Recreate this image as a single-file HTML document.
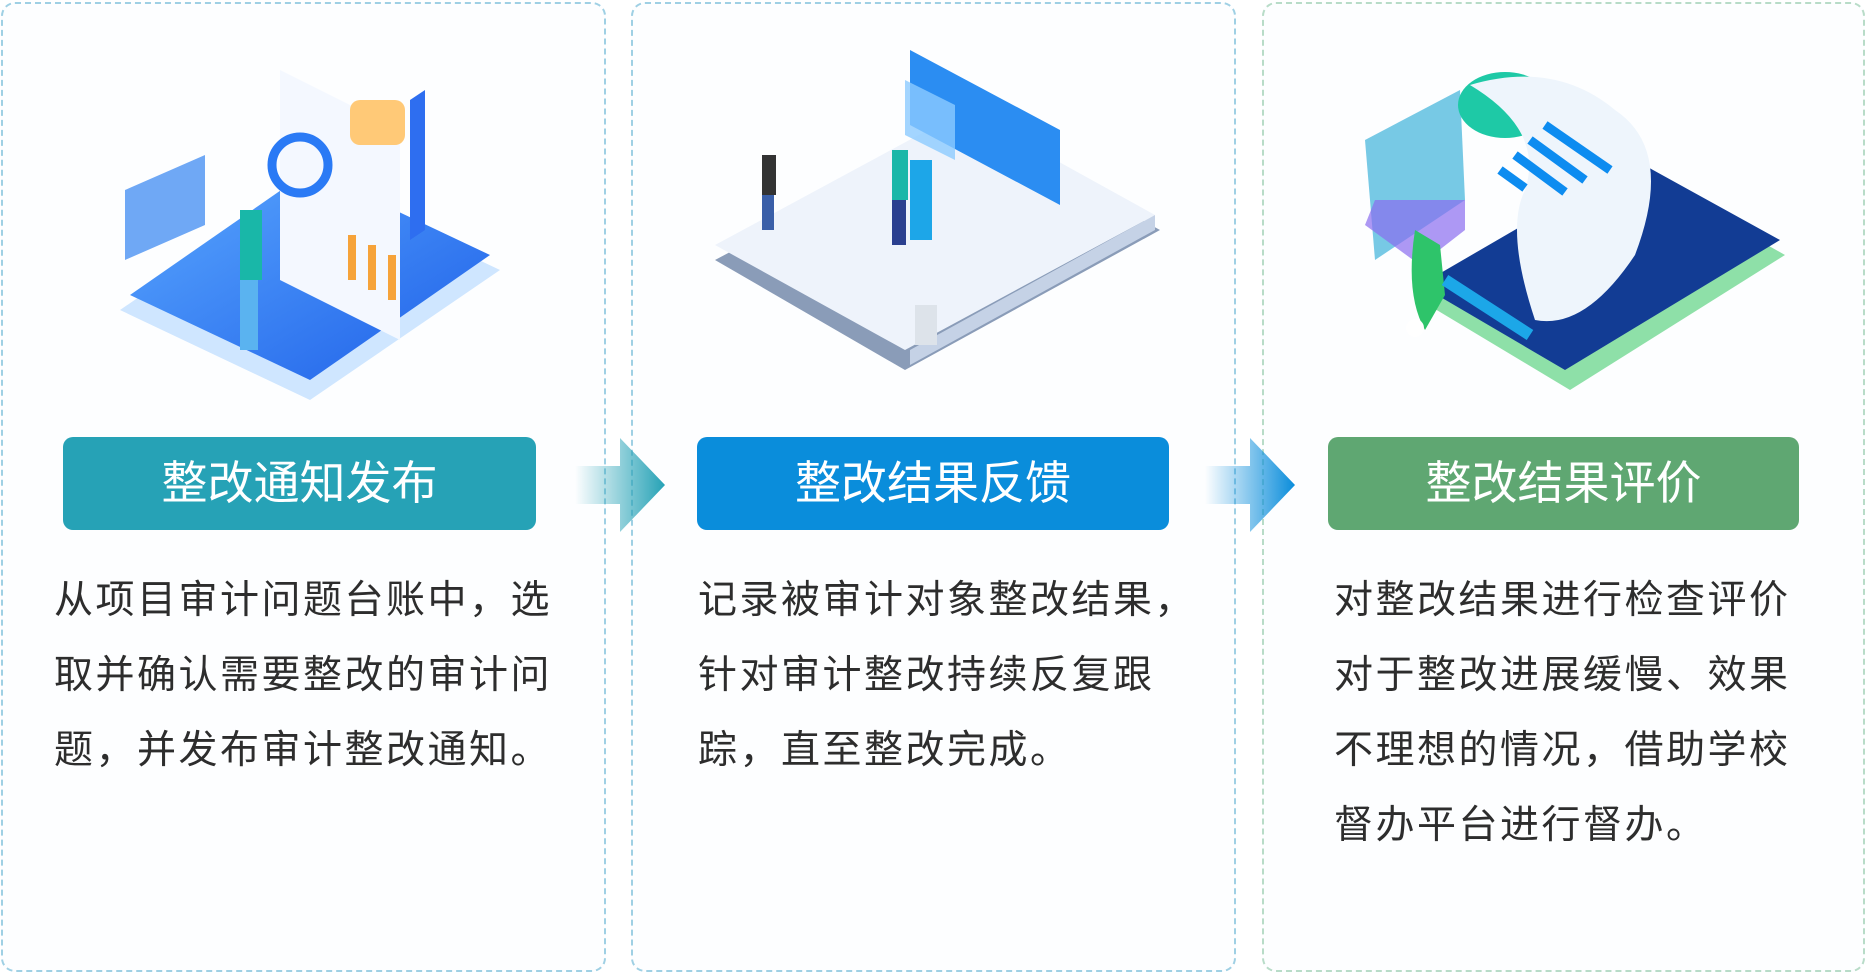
<!DOCTYPE html>
<html><head><meta charset="utf-8"><style>
html,body{margin:0;padding:0;width:1867px;height:976px;background:#fff;overflow:hidden;font-family:"Liberation Sans","Noto Sans CJK SC",sans-serif}
.card{position:absolute;top:2px;height:970px;border:2px dashed #9fd0e4;border-radius:14px;box-sizing:border-box;background:#fdfeff}
.bar{position:absolute;top:437px;height:93px;border-radius:10px;color:#fff;font-size:46px;text-align:center;line-height:93px;letter-spacing:0px}
.txt{position:absolute;top:563px;font-size:39px;line-height:75px;color:#2d2d2d;letter-spacing:2.5px}
.ill{position:absolute;top:30px}
</style></head><body>
<div class="card" style="left:1px;width:605px"></div>
<div class="card" style="left:631px;width:605px"></div>
<div class="card" style="left:1262px;width:603px;border-color:#b8dcc8"></div>

<svg class="ill" style="left:110px" width="400" height="370" viewBox="0 0 400 370">
<defs><linearGradient id="g1" x1="0" y1="0" x2="1" y2="1"><stop offset="0" stop-color="#5aa8ff"/><stop offset="1" stop-color="#1e5fe8"/></linearGradient></defs>
<polygon points="10,280 200,370 390,240 200,150" fill="#cfe6ff"/>
<polygon points="20,265 200,350 380,225 200,140" fill="url(#g1)"/>
<polygon points="170,40 290,100 290,310 170,250" fill="#f4f8ff"/>
<polygon points="300,70 315,60 315,200 300,210" fill="#2e6ef0"/>
<circle cx="190" cy="135" r="28" fill="none" stroke="#2a7af5" stroke-width="9"/>
<rect x="130" y="180" width="22" height="70" fill="#19b7a8"/>
<rect x="130" y="250" width="18" height="70" fill="#5ab3f0"/>
<polygon points="15,160 95,125 95,195 15,230" fill="#6fa8f5"/>
<rect x="238" y="205" width="8" height="45" fill="#f6a33a"/><rect x="258" y="215" width="8" height="45" fill="#f6a33a"/><rect x="278" y="225" width="8" height="45" fill="#f6a33a"/>
<rect x="240" y="70" width="55" height="45" rx="10" fill="#ffc977"/>
</svg>

<svg class="ill" style="left:715px" width="460" height="360" viewBox="0 0 460 360">
<polygon points="0,230 190,340 445,200 255,95" fill="#8a9cb8"/>
<polygon points="0,215 190,320 440,185 250,80" fill="#eef3fb"/>
<polygon points="195,320 440,185 440,200 195,335" fill="#c5d2e6"/>
<polygon points="195,20 345,100 345,175 195,95" fill="#2b8df2"/>
<polygon points="190,50 240,75 240,130 190,105" fill="#8ccaff" opacity=".8"/>
<rect x="47" y="125" width="14" height="40" fill="#333"/><rect x="47" y="165" width="12" height="35" fill="#3a5fa8"/>
<rect x="177" y="120" width="16" height="50" fill="#19b7a8"/><rect x="177" y="170" width="14" height="45" fill="#2a3f8f"/>
<rect x="195" y="130" width="22" height="80" fill="#1da6e8"/>
<rect x="200" y="275" width="22" height="40" fill="#dde3ea"/>
</svg>

<svg class="ill" style="left:1345px" width="460" height="360" viewBox="0 0 460 360">
<polygon points="75,300 225,390 440,255 290,170" fill="#8ee0a8" transform="translate(0,-30)"/>
<polygon points="75,285 220,370 435,240 290,160" fill="#123c94" transform="translate(0,-30)"/>
<polygon points="20,110 115,60 120,170 30,230" fill="#5fbfe0" opacity=".85"/>
<polygon points="20,195 75,235 120,200 120,170 30,170" fill="#8a6cf0" opacity=".7"/>
<ellipse cx="160" cy="75" rx="47" ry="33" fill="#1ec9a6"/>
<path d="M125,55 Q210,30 270,80 Q330,120 290,225 Q240,300 190,290 Q160,200 180,160 Q200,100 125,55Z" fill="#eef5fc"/>
<g stroke="#0d8cf0" stroke-width="9"><line x1="155" y1="140" x2="180" y2="158"/><line x1="170" y1="125" x2="220" y2="162"/><line x1="185" y1="110" x2="240" y2="150"/><line x1="200" y1="95" x2="265" y2="140"/></g>
<path d="M70,200 L95,215 L100,265 L80,300 Q60,265 70,200Z" fill="#2ec46a"/>
<line x1="100" y1="250" x2="185" y2="305" stroke="#1ca7e8" stroke-width="12"/>
<circle cx="70" cy="298" r="9" fill="#fff"/>
</svg>

<div class="bar" style="left:63px;width:473px;background:#26a2b6">整改通知发布</div>
<div class="bar" style="left:697px;width:472px;background:#0a8ddb">整改结果反馈</div>
<div class="bar" style="left:1328px;width:471px;background:#5fa772">整改结果评价</div>

<svg style="position:absolute;left:575px;top:438px" width="90" height="94"><defs><linearGradient id="a1" x1="0" x2="1"><stop offset="0" stop-color="#26a2b6" stop-opacity="0"/><stop offset="1" stop-color="#26a2b6"/></linearGradient></defs><polygon points="0,28 45,28 45,0 90,47 45,94 45,66 0,66" fill="url(#a1)"/></svg>
<svg style="position:absolute;left:1205px;top:438px" width="90" height="94"><defs><linearGradient id="a2" x1="0" x2="1"><stop offset="0" stop-color="#0a8ddb" stop-opacity="0"/><stop offset="1" stop-color="#0a8ddb"/></linearGradient></defs><polygon points="0,28 45,28 45,0 90,47 45,94 45,66 0,66" fill="url(#a2)"/></svg>

<div class="txt" style="left:54px">从项目审计问题台账中，选<br>取并确认需要整改的审计问<br>题，并发布审计整改通知。</div>
<div class="txt" style="left:698px">记录被审计对象整改结果，<br>针对审计整改持续反复跟<br>踪，直至整改完成。</div>
<div class="txt" style="left:1334px">对整改结果进行检查评价<br>对于整改进展缓慢、效果<br>不理想的情况，借助学校<br>督办平台进行督办。</div>
</body></html>
